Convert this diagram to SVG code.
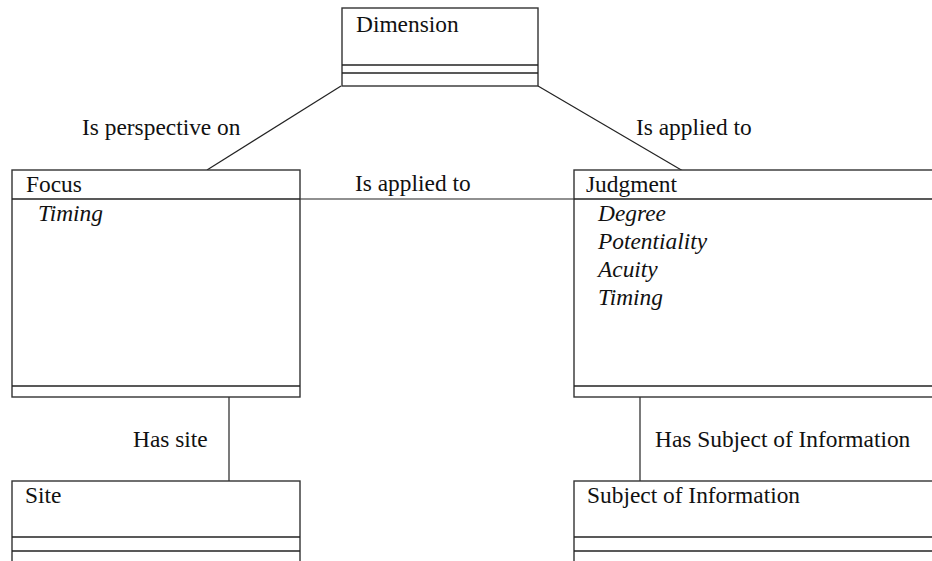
<svg xmlns="http://www.w3.org/2000/svg" width="932" height="561" viewBox="0 0 932 561">
<style>
.box{fill:#fff;stroke:#333;stroke-width:1.4}
.sep{stroke:#222;stroke-width:1.4}
.con{stroke:#222;stroke-width:1.2;fill:none}
text{font-family:"Liberation Serif","Times New Roman",serif;font-size:23.4px;fill:#111}
.it{font-style:italic}
</style>
<rect width="932" height="561" fill="#fff"/>
<g id="connectors">
<line class="con" x1="341" y1="86" x2="207" y2="170"/>
<line class="con" x1="538" y1="86" x2="683" y2="171" stroke-width="0.9"/>
<line class="con" x1="300" y1="199" x2="574" y2="199"/>
<line class="con" x1="229" y1="397" x2="229" y2="481"/>
<line class="con" x1="640" y1="397" x2="640" y2="481"/>
<text x="82" y="135">Is perspective on</text>
<text x="636" y="135">Is applied to</text>
<text x="355" y="191">Is applied to</text>
<text x="133" y="447">Has site</text>
<text x="655" y="447">Has Subject of Information</text>
</g>
<g id="dimension">
<rect class="box" x="342" y="8" width="196" height="78"/>
<line class="sep" x1="342" y1="65" x2="538" y2="65"/>
<line class="sep" x1="342" y1="73" x2="538" y2="73"/>
<text x="356" y="32">Dimension</text>
</g>
<g id="focus">
<rect class="box" x="12" y="170" width="288" height="227"/>
<line class="sep" x1="12" y1="199" x2="300" y2="199"/>
<line class="sep" x1="12" y1="386" x2="300" y2="386"/>
<text x="26" y="192">Focus</text>
<text class="it" x="38" y="221">Timing</text>
</g>
<g id="judgment">
<rect class="box" x="574" y="170" width="370" height="227"/>
<line class="sep" x1="574" y1="199" x2="944" y2="199"/>
<line class="sep" x1="574" y1="386" x2="944" y2="386"/>
<text x="586" y="192">Judgment</text>
<text class="it" x="598" y="221">Degree</text>
<text class="it" x="598" y="249">Potentiality</text>
<text class="it" x="598" y="277">Acuity</text>
<text class="it" x="598" y="305">Timing</text>
</g>
<g id="site">
<rect class="box" x="12" y="481" width="288" height="100"/>
<line class="sep" x1="12" y1="537" x2="300" y2="537"/>
<line class="sep" x1="12" y1="551" x2="300" y2="551"/>
<text x="25" y="503">Site</text>
</g>
<g id="subject">
<rect class="box" x="574" y="481" width="370" height="100"/>
<line class="sep" x1="574" y1="537" x2="944" y2="537"/>
<line class="sep" x1="574" y1="551" x2="944" y2="551"/>
<text x="587" y="503">Subject of Information</text>
</g>
</svg>
